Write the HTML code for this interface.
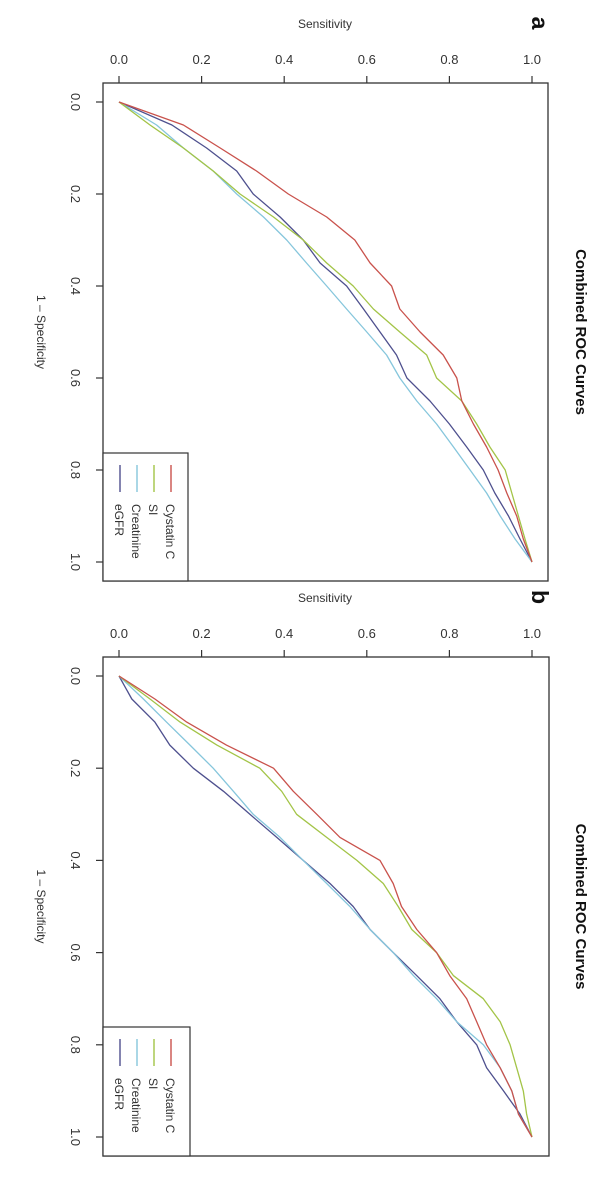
<!DOCTYPE html>
<html><head><meta charset="utf-8"><style>
html,body{margin:0;padding:0;background:#fff;}
svg{display:block;font-family:"Liberation Sans",sans-serif;}
</style></head><body>
<svg id="chart" width="603" height="1181" viewBox="0 0 603 1181"></svg>
<script>
const fprA = [0, 0.05, 0.1, 0.15, 0.2, 0.25, 0.3, 0.35, 0.4, 0.45, 0.5, 0.55, 0.6, 0.65, 0.7, 0.75, 0.8, 0.85, 0.9, 0.95, 1.0];
const cystatinA = [0, 0.156, 0.245, 0.333, 0.41, 0.503, 0.571, 0.608, 0.66, 0.68, 0.729, 0.785, 0.818, 0.83, 0.858, 0.89, 0.918, 0.939, 0.963, 0.979, 1.0];
const siA = [0, 0.075, 0.156, 0.228, 0.293, 0.374, 0.446, 0.503, 0.567, 0.616, 0.68, 0.745, 0.769, 0.83, 0.866, 0.898, 0.935, 0.951, 0.967, 0.983, 1.0];
const creatinineA = [0, 0.091, 0.156, 0.228, 0.285, 0.35, 0.406, 0.454, 0.503, 0.551, 0.60, 0.648, 0.68, 0.721, 0.769, 0.81, 0.85, 0.89, 0.923, 0.959, 1.0];
const egfrA = [0, 0.128, 0.212, 0.285, 0.325, 0.39, 0.446, 0.487, 0.551, 0.592, 0.632, 0.672, 0.697, 0.753, 0.80, 0.842, 0.882, 0.91, 0.943, 0.971, 1.0];

const fprB = [0, 0.05, 0.1, 0.15, 0.2, 0.25, 0.3, 0.35, 0.4, 0.45, 0.5, 0.55, 0.6, 0.65, 0.7, 0.75, 0.8, 0.85, 0.9, 0.95, 1.0];
const cystatinB = [0, 0.087, 0.164, 0.26, 0.374, 0.422, 0.479, 0.535, 0.632, 0.664, 0.684, 0.721, 0.769, 0.801, 0.842, 0.866, 0.89, 0.923, 0.951, 0.967, 1.0];
const siB = [0, 0.075, 0.148, 0.237, 0.341, 0.394, 0.43, 0.503, 0.576, 0.64, 0.676, 0.709, 0.769, 0.81, 0.882, 0.923, 0.947, 0.963, 0.979, 0.987, 1.0];
const creatinineB = [0, 0.059, 0.115, 0.172, 0.228, 0.277, 0.325, 0.39, 0.446, 0.503, 0.559, 0.608, 0.664, 0.713, 0.769, 0.818, 0.882, 0.923, 0.951, 0.967, 1.0];
const egfrB = [0, 0.031, 0.087, 0.123, 0.18, 0.253, 0.317, 0.382, 0.446, 0.511, 0.567, 0.608, 0.664, 0.721, 0.777, 0.818, 0.866, 0.89, 0.931, 0.971, 1.0];

const tickLabels = ["0.0", "0.2", "0.4", "0.6", "0.8", "1.0"];
const tickValues = [0, 0.2, 0.4, 0.6, 0.8, 1.0];
const seriesNames = ["Cystatin C", "SI", "Creatinine", "eGFR"];
const seriesColors = ["#c9524c", "#a3c447", "#86c6dc", "#4e508e"];

const NS = "http://www.w3.org/2000/svg";
const svg = document.getElementById("chart");
function el(tag, attrs, parent) {
  const e = document.createElementNS(NS, tag);
  for (const k in attrs) e.setAttribute(k, attrs[k]);
  (parent || svg).appendChild(e);
  return e;
}

const panels = [
  {id: "a", fpr: fprA, series: [cystatinA, siA, creatinineA, egfrA], box: [103, 83, 548, 581], y0: 102, y1: 562, letterY: 23, leg: [103, 453, 188, 581]},
  {id: "b", fpr: fprB, series: [cystatinB, siB, creatinineB, egfrB], box: [103, 657, 549, 1156], y0: 676, y1: 1137, letterY: 597, leg: [103, 1027, 190, 1156]}
];

panels.forEach(p => {
  const g = el("g", {});
  
  
  const sx = v => 119 + 413 * v;
  const sy = v => p.y0 + (p.y1 - p.y0) * v;
  const [bx0, by0, bx1, by1] = p.box;

  const frame = el("rect", {x: bx0, y: by0, width: bx1 - bx0, height: by1 - by0, fill: "none", stroke: "#333", "stroke-width": 1.3}, g);
  
  

  const ax = el("g", {}, g);
  
  
  el("line", {x1: sx(0), x2: sx(1), y1: by0, y2: by0, stroke: "#333"}, ax);
  tickValues.forEach((v, i) => {
    el("line", {x1: sx(v), x2: sx(v), y1: by0, y2: by0 - 7, stroke: "#333", "stroke-width": 1.2}, ax);
    const t = el("text", {x: sx(v), y: by0 - 19, "text-anchor": "middle", "font-size": 13, fill: "#333"}, ax);
    t.textContent = tickLabels[i];
    
    
  });
  const xt = el("text", {x: 325, y: by0 - 55, "text-anchor": "middle", "font-size": 12, fill: "#333"}, g);
  xt.textContent = "Sensitivity";
  
  

  const ay = el("g", {}, g);
  
  
  tickValues.forEach((v, i) => {
    el("line", {x1: bx0, x2: bx0 - 7, y1: sy(v), y2: sy(v), stroke: "#333", "stroke-width": 1.2}, ay);
    const t = el("text", {x: 71, y: sy(v), "text-anchor": "middle", "font-size": 13, fill: "#333", transform: `rotate(90 71 ${sy(v)})`}, ay);
    t.textContent = tickLabels[i];
    
    
  });
  const ym = (p.y0 + p.y1) / 2;
  const yt = el("text", {x: 37, y: ym, "text-anchor": "middle", "font-size": 12, fill: "#333", transform: `rotate(90 37 ${ym})`}, g);
  yt.textContent = "1 \u2013 Specificity";
  
  

  const tt = el("text", {x: 576, y: ym, "text-anchor": "middle", "font-size": 15, "font-weight": "bold", fill: "#111", transform: `rotate(90 576 ${ym})`}, g);
  tt.textContent = "Combined ROC Curves";
  
  

  const lt = el("text", {x: 532, y: p.letterY, "text-anchor": "middle", "font-size": 23, "font-weight": "bold", fill: "#111", transform: `rotate(90 532 ${p.letterY})`}, g);
  lt.textContent = p.id;
  
  

  for (let k = p.series.length - 1; k >= 0; k--) {
    const vals = p.series[k];
    const d = p.fpr.map((f, i) => (i ? "L" : "M") + sx(vals[i]).toFixed(1) + "," + sy(f).toFixed(1)).join(" ");
    const path = el("path", {d: d, fill: "none", stroke: seriesColors[k], "stroke-width": 1.3, "stroke-linejoin": "round"}, g);
    
    
  }

  const [lx0, ly0, lx1, ly1] = p.leg;
  const lg = el("g", {}, g);
  
  
  el("rect", {x: lx0, y: ly0, width: lx1 - lx0, height: ly1 - ly0, fill: "#fff", stroke: "#333", "stroke-width": 1.2}, lg);
  const colX = [171, 154, 137, 120];
  seriesNames.forEach((n, k) => {
    const e = el("g", {}, lg);
    
    
    el("line", {x1: colX[k], x2: colX[k], y1: ly0 + 12, y2: ly0 + 39, stroke: seriesColors[k], "stroke-width": 1.4}, e);
    const tx = colX[k] - 5, ty = ly0 + 51;
    const t = el("text", {x: tx, y: ty, "font-size": 12, fill: "#333", transform: `rotate(90 ${tx} ${ty})`}, e);
    t.textContent = n;
  });
});
</script>
</body></html>
